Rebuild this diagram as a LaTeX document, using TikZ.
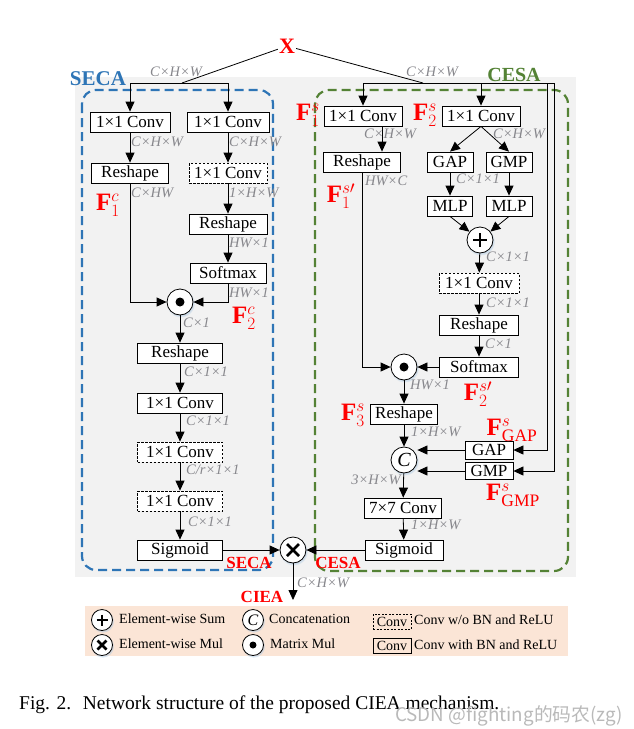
\documentclass[tikz,border=0pt]{standalone}
\usepackage{fontspec}
\setmainfont{Liberation Serif}
\newfontfamily\cjkfont{Noto Sans CJK SC}
\usetikzlibrary{arrows.meta,calc,shadows}
\definecolor{secablue}{RGB}{46,117,182}
\definecolor{cesagreen}{RGB}{84,130,53}
\definecolor{bggray}{RGB}{242,242,242}
\definecolor{lblgray}{RGB}{135,135,140}
\definecolor{peach}{RGB}{251,229,214}
\definecolor{fred}{RGB}{255,0,0}
\newcommand\mkplus[2]{\draw[line width=2.6pt] ($(#1)+(-#2,0)$) -- ($(#1)+(#2,0)$) ($(#1)+(0,-#2)$) -- ($(#1)+(0,#2)$);}
\newcommand\mkcross[2]{\draw[line width=2.6pt] ($(#1)+(-#2,-#2)$) -- ($(#1)+(#2,#2)$) ($(#1)+(-#2,#2)$) -- ($(#1)+(#2,-#2)$);}
\newcommand\mkdot[2]{\fill (#1) circle[radius=#2pt];}
\tikzset{
 box/.style={draw=black, line width=0.8pt, fill=white, inner sep=0pt, minimum height=20pt, font=\fontsize{17}{17}\selectfont},
 dbox/.style={box, dash pattern=on 2.5pt off 1.5pt},
 op/.style={circle, draw=black, line width=0.8pt, fill=white, minimum size=26pt, inner sep=0pt,
   circular drop shadow={shadow xshift=0.6pt, shadow yshift=-1.2pt, fill=secablue!40, opacity=0.5}},
 arr/.style={-{Triangle[length=10pt,width=9pt]}, line width=0.8pt},
 ln/.style={line width=0.8pt},
 dim/.style={text=lblgray, font=\fontsize{14.5}{14.5}\selectfont\itshape, inner sep=0pt, anchor=west},
 flab/.style={text=fred, font=\fontsize{25}{25}\selectfont, inner sep=0pt},
 rlab/.style={text=fred, font=\fontsize{17}{17}\selectfont\bfseries, inner sep=0pt},
 leg/.style={font=\fontsize{14}{14}\selectfont, inner sep=0pt, anchor=west},
 legbox/.style={draw=black, line width=0.7pt, inner sep=0pt, minimum width=38pt, minimum height=15pt, font=\fontsize{14}{14}\selectfont},
}
\begin{document}
\begin{tikzpicture}[x=1pt,y=-1pt]
\useasboundingbox (0,0) rectangle (633,729);
% backgrounds
\fill[bggray] (75,77) rectangle (576,577);
\draw[secablue, line width=2.2pt, dash pattern=on 9pt off 5pt, rounded corners=14pt] (82,90) rectangle (273,570);
\draw[cesagreen, line width=2.2pt, dash pattern=on 9pt off 5pt, rounded corners=14pt] (315,90) rectangle (568,571);
% titles
\node[text=fred, font=\fontsize{22}{22}\selectfont\bfseries, inner sep=1pt] (X) at (287,46) {X};
\node[text=secablue, font=\fontsize{21}{21}\selectfont\bfseries, inner sep=0pt] (secat) at (98,79) {SECA};
\node[text=cesagreen, font=\fontsize{20}{20}\selectfont\bfseries, inner sep=0pt] (cesat) at (514,75) {CESA};
% coordinates
\coordinate (tl) at (182,83);
\coordinate (tr) at (423,83);
\coordinate (la) at (130,83);
\coordinate (lb) at (228,83);
\coordinate (ra) at (363,83);
\coordinate (rb) at (481,83);
\coordinate (rc) at (547,83);
\coordinate (rd) at (554,83);
\coordinate (out) at (293,600);
% SECA nodes
\node[box, minimum width=80pt] (a1) at (130,122) {1×1 Conv};
\node[box, minimum width=82pt] (a2) at (228,122) {1×1 Conv};
\node[box, minimum width=77pt] (a3) at (130,173) {Reshape};
\node[dbox, minimum width=78pt] (a4) at (228,173) {1×1 Conv};
\node[box, minimum width=78pt] (a5) at (228,224) {Reshape};
\node[box, minimum width=76pt] (a6) at (228,273) {Softmax};
\node[op] (mm1) at (180,302) {};
\mkdot{mm1}{4.5}
\node[box, minimum width=85pt] (a7) at (180,353) {Reshape};
\node[box, minimum width=85pt] (a8) at (180,403) {1×1 Conv};
\node[dbox, minimum width=85pt] (a9) at (180,452) {1×1 Conv};
\node[dbox, minimum width=85pt] (a10) at (180,501) {1×1 Conv};
\node[box, minimum width=85pt] (a11) at (180,550) {Sigmoid};
\node[op] (mul) at (293,550) {};
\mkcross{mul}{6}
% CESA nodes
\node[box, minimum width=78pt] (b1) at (363,116) {1×1 Conv};
\node[box, minimum width=78pt] (b2) at (481,116) {1×1 Conv};
\node[box, minimum width=77pt] (b3) at (362,162) {Reshape};
\node[box, minimum width=46pt] (g1) at (450,162) {GAP};
\node[box, minimum width=46pt] (m1) at (509,162) {GMP};
\node[box, minimum width=45pt] (p1) at (450,206) {MLP};
\node[box, minimum width=46pt] (p2) at (509,206) {MLP};
\node[op] (sum) at (480,240) {};
\mkplus{sum}{7}
\node[dbox, minimum width=80pt] (b4) at (479,283) {1×1 Conv};
\node[box, minimum width=79pt] (b5) at (479,325) {Reshape};
\node[box, minimum width=79pt] (b6) at (479,367) {Softmax};
\node[op] (mm2) at (404,367) {};
\mkdot{mm2}{4.5}
\node[box, minimum width=67pt] (b7) at (404,414) {Reshape};
\node[op, font=\fontsize{20}{20}\selectfont\itshape] (cat) at (404,460) {C};
\node[box, minimum width=48pt, minimum height=18pt] (g2) at (489,450) {GAP};
\node[box, minimum width=48pt, minimum height=17pt] (m2) at (489,471) {GMP};
\node[box, minimum width=77pt] (b8) at (403,508) {7×7 Conv};
\node[box, minimum width=78pt] (b9) at (404,550) {Sigmoid};
% top connectors
\draw[ln] (X) -- (tl);
\draw[ln] (X) -- (tr);
\draw[ln] (la) -- (lb);
\draw[arr] (la) -- (a1);
\draw[arr] (lb) -- (a2);
\draw[ln] (ra) -- (rd);
\draw[arr] (ra) -- (b1);
\draw[arr] (rb) -- (b2);
\draw[arr] (rc) |- (g2);
\draw[arr] (rd) |- (m2);
% SECA connectors
\draw[arr] (a1) -- (a3);
\draw[arr] (a2) -- (a4);
\draw[arr] (a4) -- (a5);
\draw[arr] (a5) -- (a6);
\draw[arr] (a3) |- (mm1);
\draw[arr] (a6) |- (mm1);
\draw[arr] (mm1) -- (a7);
\draw[arr] (a7) -- (a8);
\draw[arr] (a8) -- (a9);
\draw[arr] (a9) -- (a10);
\draw[arr] (a10) -- (a11);
\draw[arr] (a11) -- (mul);
\draw[arr] (b9) -- (mul);
\draw[arr] (mul) -- (out);
% CESA connectors
\draw[arr] ([xshift=19pt]b1.south) -- ([xshift=19pt]b1.south |- b3.north);
\draw[arr] (b2.south) -- (g1.north);
\draw[arr] (b2.south) -- (m1.north);
\draw[arr] (g1) -- (p1);
\draw[arr] (m1) -- (p2);
\draw[arr] (p1.south) -- (sum);
\draw[arr] (p2.south) -- (sum);
\draw[arr] (sum) -- (b4);
\draw[arr] (b4) -- (b5);
\draw[arr] (b5) -- (b6);
\draw[arr] (b6) -- (mm2);
\draw[arr] (b3) |- (mm2);
\draw[arr] (mm2) -- (b7);
\draw[arr] (b7) -- (cat);
\draw[arr] (g2) -- (cat.east |- g2);
\draw[arr] (m2) -- (cat.east |- m2);
\draw[arr] (cat) -- (b8);
\draw[arr] (b8) -- (b9);
% dimension labels
\node[dim, anchor=center] (d0) at (176,72) {C×H×W};
\node[dim, anchor=center] (d00) at (432,72) {C×H×W};
\node[dim] (d1) at (131,142) {C×H×W};
\node[dim] (d2) at (229,142) {C×H×W};
\node[dim] (d3) at (131,193) {C×HW};
\node[dim] (d4) at (229,193) {1×H×W};
\node[dim] (d5) at (229,243) {HW×1};
\node[dim] (d6) at (229,293) {HW×1};
\node[dim] (d7) at (183,323) {C×1};
\node[dim] (d8) at (184,372) {C×1×1};
\node[dim] (d9) at (186,421) {C×1×1};
\node[dim] (d10) at (186,470) {C/r×1×1};
\node[dim] (d11) at (188,522) {C×1×1};
\node[dim] (d12) at (297,583) {C×H×W};
\node[dim] (e1) at (364,134) {C×H×W};
\node[dim] (e2) at (493,134) {C×H×W};
\node[dim] (e3) at (365,181) {HW×C};
\node[dim] (e4) at (456,179) {C×1×1};
\node[dim] (e5) at (486,257) {C×1×1};
\node[dim] (e6) at (486,303) {C×1×1};
\node[dim] (e7) at (485,344) {C×1};
\node[dim] (e8) at (410,385) {HW×1};
\node[dim] (e9) at (411,432) {1×H×W};
\node[dim, anchor=east] (e10) at (401,480) {3×H×W};
\node[dim] (e11) at (411,525) {1×H×W};
% feature labels
\node[flab] (f1c) at (108,205) {$\mathbf{F}_1^{c}$};
\node[flab] (f2c) at (244,318) {$\mathbf{F}_2^{c}$};
\node[flab] (f1s) at (308,115) {$\mathbf{F}_1^{s}$};
\node[flab] (f2s) at (425,115) {$\mathbf{F}_2^{s}$};
\node[flab] (f1sp) at (341,196) {$\mathbf{F}_1^{s\prime}$};
\node[flab] (f2sp) at (478,394) {$\mathbf{F}_2^{s\prime}$};
\node[flab] (f3s) at (353,415) {$\mathbf{F}_3^{s}$};
\node[flab] (fgap) at (512,430) {$\mathbf{F}^{s}_{\mathrm{GAP}}$};
\node[flab] (fgmp) at (513,495) {$\mathbf{F}^{s}_{\mathrm{GMP}}$};
\node[rlab] (seca) at (249,563) {SECA};
\node[rlab] (cesa) at (338,563) {CESA};
\node[rlab] (ciea) at (262,597) {CIEA};
% legend
\fill[peach] (85,606) rectangle (568,656);
\node[op, minimum size=21pt] (l1) at (102,620) {};
\mkplus{l1}{5.5}
\node[op, minimum size=21pt] (l2) at (102,645) {};
\mkcross{l2}{4.5}
\node[op, minimum size=21pt, font=\fontsize{16}{16}\selectfont\itshape] (l3) at (253,620) {C};
\node[op, minimum size=21pt] (l4) at (253,645) {};
\mkdot{l4}{3.5}
\node[leg] (t1) at (119,619) {Element-wise Sum};
\node[leg] (t2) at (119,644) {Element-wise Mul};
\node[leg] (t3) at (269,619) {Concatenation};
\node[leg] (t4) at (270,644) {Matrix Mul};
\node[legbox, dash pattern=on 2pt off 1.5pt] (l5) at (392,621.5) {Conv};
\node[leg] (t5) at (414,620) {Conv w/o BN and ReLU};
\node[legbox] (l6) at (392,646) {Conv};
\node[leg] (t6) at (414,645) {Conv with BN and ReLU};
% caption
\node[anchor=west, inner sep=0pt, font=\fontsize{19.5}{19.5}\selectfont] (cap) at (19,705) {Fig. 2.\hspace{0.6em}Network structure of the proposed CIEA mechanism.};
\node[anchor=west, inner sep=0pt, text=gray!55, font=\cjkfont\fontsize{18.8}{18.8}\selectfont] (wm) at (395,716) {CSDN @fighting的码农(zg)};
\end{tikzpicture}
\end{document}
